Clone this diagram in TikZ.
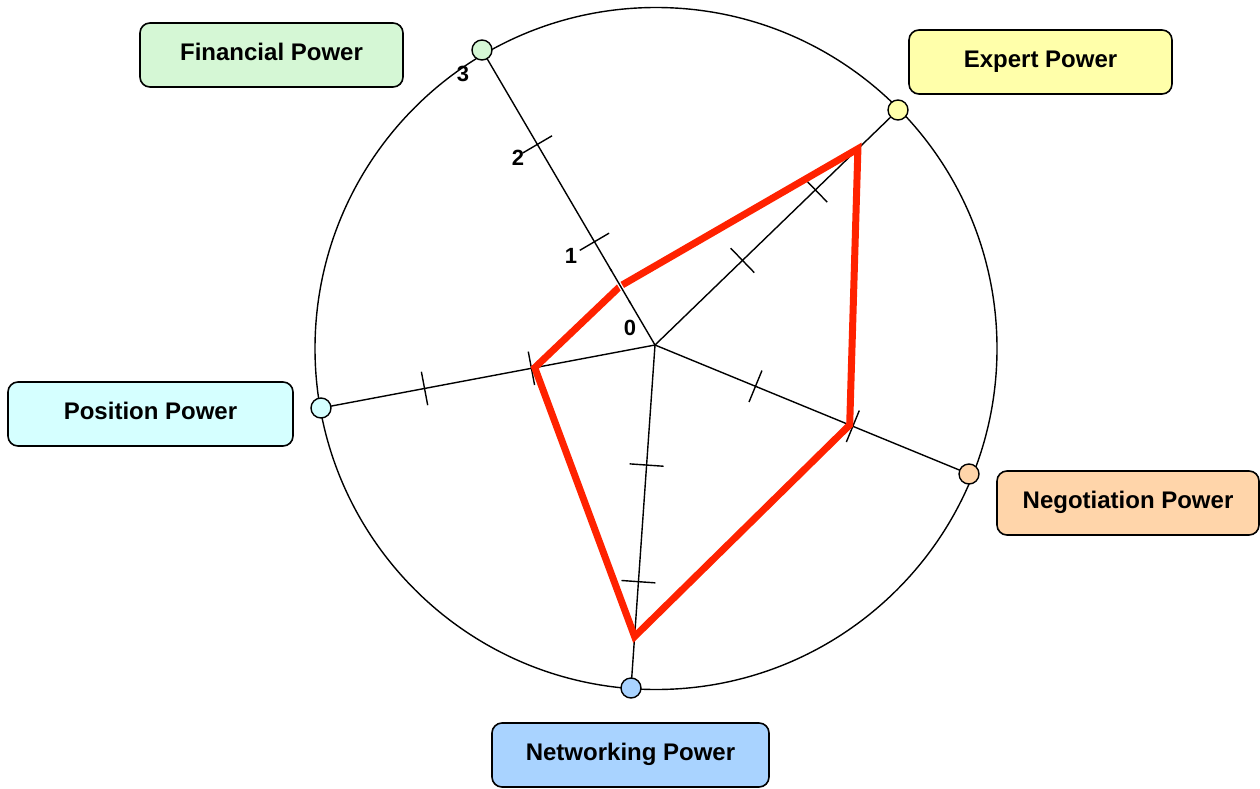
\documentclass[tikz,border=0pt]{standalone}
\usepackage{fontspec}
\setmainfont{Liberation Sans}
\usetikzlibrary{calc}
\definecolor{finfill}{HTML}{D5F7D5}
\definecolor{expfill}{HTML}{FFFFAA}
\definecolor{posfill}{HTML}{D5FFFF}
\definecolor{negfill}{HTML}{FFD5AA}
\definecolor{netfill}{HTML}{A9D3FF}
\definecolor{scorered}{HTML}{FF2200}
\tikzset{
  labelbox/.style={draw=black, line width=1.6pt, rounded corners=10pt,
    minimum height=64pt, inner sep=0pt, font=\fontsize{24}{26}\selectfont\bfseries},
  enddot/.style={circle, draw=black, line width=1.4pt, minimum size=20pt, inner sep=0pt},
  spoke/.style={line width=1.4pt},
  tickmark/.style={line width=1.4pt},
  scaleno/.style={font=\fontsize{22}{24}\selectfont\bfseries, inner sep=0pt},
  scoreline/.style={draw=scorered, line width=7pt, line join=miter}
}
\newcommand{\boxtext}[1]{\raisebox{6.5pt}{#1}}
\begin{document}
\begin{tikzpicture}[x=1pt,y=-1pt]
\useasboundingbox (0,0) rectangle (1260,789);

% outer ring
\draw[line width=1.4pt] (656,348.5) circle (341);

% axis end points and centre
\coordinate (C) at (655,345);
\coordinate (pF) at (482,50);
\coordinate (pE) at (898,110);
\coordinate (pNg) at (969,474);
\coordinate (pNw) at (631,688);
\coordinate (pP) at (321,408);

% spokes
\foreach \p in {pF,pE,pNg,pNw,pP}{
  \draw[spoke] (C) -- (\p);
}

% tick marks at 1 and 2 on each spoke
\foreach \p/\fa/\fb in {pF/0.35/0.68, pE/0.36/0.66, pNg/0.32/0.63, pNw/0.35/0.69, pP/0.37/0.69}{
  \foreach \f in {\fa,\fb}{
    \coordinate (t) at ($(C)!\f!(\p)$);
    \draw[tickmark] ($(t)!17pt!90:(\p)$) -- ($(t)!17pt!-90:(\p)$);
  }
}

% scale numbers
\node[scaleno] (n0) at (630,328) {0};
\node[scaleno] (n1) at (571,256) {1};
\node[scaleno] (n2) at (518,158) {2};
\node[scaleno] (n3) at (463,74) {3};

% score polygon
\coordinate (rF) at ($(C)!0.2!(pF)$);
\coordinate (rE) at ($(C)!0.835!(pE)$);
\coordinate (rNg) at ($(C)!0.62!(pNg)$);
\coordinate (rNw) at ($(C)!0.85!(pNw)$);
\coordinate (rP) at ($(C)!0.36!(pP)$);
\draw[scoreline] (rF) -- (rE) -- (rNg) -- (rNw) -- (rP) -- cycle;

% break in the score line where the financial spoke crosses it
\draw[white, line width=4pt] ($(C)!0.15!(pF)$) -- ($(C)!0.25!(pF)$);
\draw[spoke] ($(C)!0.14!(pF)$) -- ($(C)!0.26!(pF)$);

% end dots
\node[enddot, fill=finfill] (dF) at (pF) {};
\node[enddot, fill=expfill] (dE) at (pE) {};
\node[enddot, fill=negfill] (dNg) at (pNg) {};
\node[enddot, fill=netfill] (dNw) at (pNw) {};
\node[enddot, fill=posfill] (dP) at (pP) {};

% labels
\node[labelbox, fill=finfill, minimum width=263pt] (bF) at (271.5,55) {\boxtext{Financial Power}};
\node[labelbox, fill=expfill, minimum width=263pt] (bE) at (1040.5,62) {\boxtext{Expert Power}};
\node[labelbox, fill=posfill, minimum width=285pt] (bP) at (150.5,414) {\boxtext{Position Power}};
\node[labelbox, fill=negfill, minimum width=262pt] (bNg) at (1128,503) {\boxtext{Negotiation Power}};
\node[labelbox, fill=netfill, minimum width=277pt] (bNw) at (630.5,755) {\boxtext{Networking Power}};
\end{tikzpicture}
\end{document}
